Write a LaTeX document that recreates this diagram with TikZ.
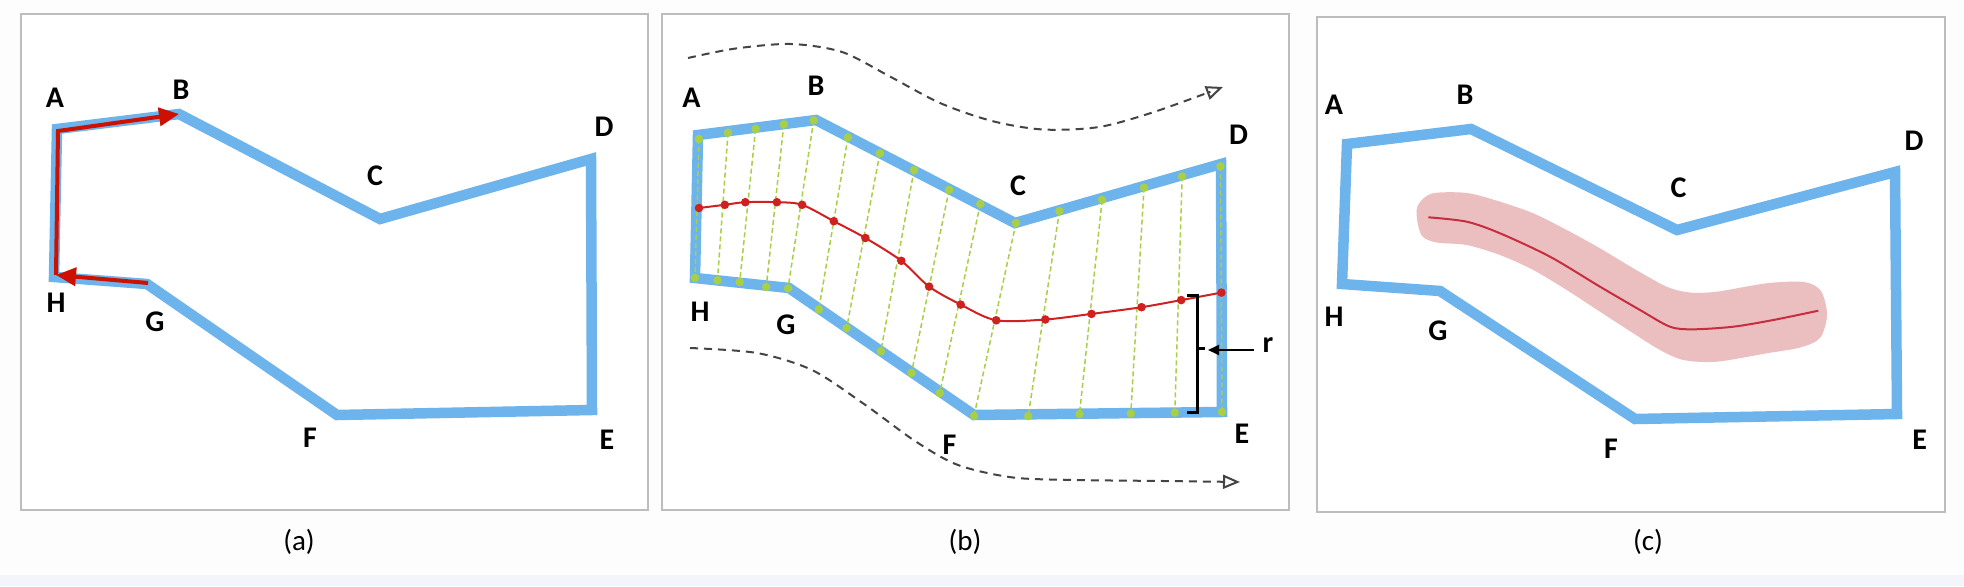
\documentclass[tikz,border=0pt]{standalone}
\usepackage{fontspec}
\setmainfont{Carlito}
\usetikzlibrary{arrows.meta}
\definecolor{polyblue}{HTML}{6DB3EC}
\definecolor{framegray}{HTML}{BDBDBD}
\definecolor{arrred}{HTML}{CC1100}
\definecolor{dotgreen}{HTML}{A8CF45}
\definecolor{midred}{HTML}{D02020}
\definecolor{bandpink}{HTML}{EBBFC0}
\definecolor{bandred}{HTML}{C62D3E}
\definecolor{flowgray}{HTML}{444444}
\definecolor{stripbg}{HTML}{F4F5FA}
\definecolor{pagebg}{HTML}{FDFDFD}
\begin{document}
\begin{tikzpicture}[x=1pt,y=-1pt,
  panelframe/.style={draw=framegray,line width=2pt,fill=white},
  poly/.style={draw=polyblue,line width=10.5pt,line join=miter},
  lbl/.style={font=\fontsize{30}{30}\selectfont\bfseries,inner sep=0pt},
  captxt/.style={font=\fontsize{29}{29}\selectfont,inner sep=0pt},
  redarrow/.style={draw=arrred,line width=4pt,line join=miter,-{Triangle[length=20pt,width=18pt]}},
  flow/.style={draw=flowgray,line width=2pt,dash pattern=on 8pt off 6pt,-{Triangle[open,length=17pt,width=14pt,line width=2pt]}},
  rib/.style={draw=dotgreen,line width=1.5pt,dash pattern=on 5pt off 3pt},
  gdot/.style={fill=dotgreen},
  rdot/.style={fill=midred},
  bracket/.style={draw=black,line width=3pt},
]
\useasboundingbox (0,0) rectangle (1964,586);
\fill[pagebg] (0,0) rectangle (1964,586);
\fill[stripbg] (0,575) rectangle (1964,586);

% ---------- panel frames ----------
\draw[panelframe] (21,14) rectangle (648,510);
\draw[panelframe] (662,14) rectangle (1289,510);
\draw[panelframe] (1317,17) rectangle (1945,512);

% ---------- panel (a) ----------
\coordinate (aA) at (57,129);
\coordinate (aB) at (179,114);
\coordinate (aC) at (380,219);
\coordinate (aD) at (591,159);
\coordinate (aE) at (592,410);
\coordinate (aF) at (337,415);
\coordinate (aG) at (147,284);
\coordinate (aH) at (54,277);
\draw[poly] (aA) -- (aB) -- (aC) -- (aD) -- (aE) -- (aF) -- (aG) -- (aH) -- cycle;
\coordinate (raG) at (148,283);
\coordinate (raH) at (56,275);
\coordinate (raA) at (58,131);
\coordinate (raB) at (179,114);
\draw[redarrow] (raG) -- (raH);
\draw[redarrow] (raH) -- (raA) -- (raB);
\node[lbl] (laA) at (55,98) {A};
\node[lbl] (laB) at (181,90) {B};
\node[lbl] (laC) at (375,176) {C};
\node[lbl] (laD) at (604,127) {D};
\node[lbl] (laE) at (607,440) {E};
\node[lbl] (laF) at (310,438) {F};
\node[lbl] (laG) at (155,322) {G};
\node[lbl] (laH) at (56,303) {H};
\node[captxt] (capa) at (299,542) {(a)};

% ---------- panel (b) ----------
\coordinate (bA) at (698,135);
\coordinate (bB) at (816,120);
\coordinate (bC) at (1015,223);
\coordinate (bD) at (1221,164);
\coordinate (bE) at (1222,412);
\coordinate (bF) at (974,415);
\coordinate (bG) at (789,288);
\coordinate (bH) at (695,278);
\draw[poly] (bA) -- (bB) -- (bC) -- (bD) -- (bE) -- (bF) -- (bG) -- (bH) -- cycle;

% flow lines
\coordinate (fa1) at (688,58);
\coordinate (fa2) at (735,48.6);
\coordinate (fa3) at (791,44);
\coordinate (fa4) at (842,52);
\coordinate (fa5) at (889,76);
\coordinate (fa6) at (940,103);
\coordinate (fa7) at (992,121);
\coordinate (fa8) at (1043,129.5);
\coordinate (fa9) at (1099,127);
\coordinate (fa10) at (1154,112);
\coordinate (fa11) at (1223,87);
\draw[flow] plot[smooth] coordinates {(fa1) (fa2) (fa3) (fa4) (fa5) (fa6) (fa7) (fa8) (fa9) (fa10) (fa11)};
\coordinate (fb1) at (690,348);
\coordinate (fb2) at (757,353);
\coordinate (fb3) at (812,370);
\coordinate (fb4) at (864,404);
\coordinate (fb5) at (915,441);
\coordinate (fb6) at (958,465);
\coordinate (fb7) at (1013,477.5);
\coordinate (fb8) at (1077,480);
\coordinate (fb9) at (1163,481);
\coordinate (fb10) at (1240,482);
\draw[flow] plot[smooth] coordinates {(fb1) (fb2) (fb3) (fb4) (fb5) (fb6) (fb7) (fb8) (fb9) (fb10)};

% ribs
\coordinate (t1) at (699,139);   \coordinate (b1) at (695,278);
\coordinate (t2) at (728,132.7); \coordinate (b2) at (717.5,280.3);
\coordinate (t3) at (755.6,128.9); \coordinate (b3) at (739.7,282.1);
\coordinate (t4) at (783.8,124.4); \coordinate (b4) at (766.2,287);
\coordinate (t5) at (813.7,120.3); \coordinate (b5) at (788,288.5);
\coordinate (t6) at (847.9,137.5); \coordinate (b6) at (818.8,309.4);
\coordinate (t7) at (879.9,153.2); \coordinate (b7) at (846.6,328.1);
\coordinate (t8) at (914.1,170);   \coordinate (b8) at (880.8,351.3);
\coordinate (t9) at (949.1,189.8); \coordinate (b9) at (911.5,372.9);
\coordinate (t10) at (980.3,204);  \coordinate (b10) at (939.7,393.1);
\coordinate (t11) at (1016,223);   \coordinate (b11) at (974,415.9);
\coordinate (t12) at (1059.4,211.1); \coordinate (b12) at (1028.2,416);
\coordinate (t13) at (1102.1,199.9); \coordinate (b13) at (1079.5,414);
\coordinate (t14) at (1144,187.6); \coordinate (b14) at (1130.8,413.5);
\coordinate (t15) at (1182.1,176.4); \coordinate (b15) at (1174.8,412.5);
\coordinate (t16) at (1220.5,166.3); \coordinate (b16) at (1222,412);
\foreach \i in {1,...,16} {
  \draw[rib] (t\i) -- (b\i);
  \fill[gdot] (t\i) circle[radius=4.3];
  \fill[gdot] (b\i) circle[radius=4.3];
}
% medial line
\coordinate (r1) at (699,208);
\coordinate (r2) at (724.8,204.8);
\coordinate (r3) at (745.3,202.2);
\coordinate (r4) at (776.9,202.2);
\coordinate (r5) at (802.1,204.8);
\coordinate (r6) at (833.8,221.2);
\coordinate (r7) at (865.4,238);
\coordinate (r8) at (901.3,260.8);
\coordinate (r9) at (929.1,286.6);
\coordinate (r10) at (960.7,304.6);
\coordinate (r11) at (996.2,320.3);
\coordinate (r12) at (1045.3,319.5);
\coordinate (r13) at (1091.5,313.9);
\coordinate (r14) at (1141.5,307.2);
\coordinate (r15) at (1181.2,300.1);
\coordinate (r16) at (1221.4,292.6);
\draw[midred,line width=2pt] plot[smooth] coordinates {(r1) (r2) (r3) (r4) (r5) (r6) (r7) (r8) (r9) (r10) (r11) (r12) (r13) (r14) (r15) (r16)};
\foreach \i in {1,...,16} { \fill[rdot] (r\i) circle[radius=4.3]; }

% radius bracket
\coordinate (brT) at (1187,295);
\coordinate (brTc) at (1197,295);
\coordinate (brBc) at (1197,412);
\coordinate (brB) at (1187,412);
\coordinate (brM) at (1197,348.5);
\coordinate (brMt) at (1205,348.5);
\draw[bracket] (brT) -- (brTc) -- (brBc) -- (brB);
\draw[bracket,line width=2.5pt] (brM) -- (brMt);
\node[lbl] (lr) at (1268,345) {r};
\coordinate (rarrS) at (1254,350);
\coordinate (rarrE) at (1208,350);
\draw[black,line width=2pt,-{Triangle[length=11pt,width=10pt]}] (rarrS) -- (rarrE);

\node[lbl] (lbA) at (691.5,98) {A};
\node[lbl] (lbB) at (816,86) {B};
\node[lbl] (lbC) at (1018,186) {C};
\node[lbl] (lbD) at (1238.5,135) {D};
\node[lbl] (lbE) at (1242,434) {E};
\node[lbl] (lbF) at (949.6,445) {F};
\node[lbl] (lbG) at (786,325) {G};
\node[lbl] (lbH) at (700,312) {H};
\node[captxt] (capb) at (965,542) {(b)};

% ---------- panel (c) ----------
\coordinate (cA) at (1347,144);
\coordinate (cB) at (1471,129);
\coordinate (cC) at (1677,230);
\coordinate (cD) at (1895,172);
\coordinate (cE) at (1897,414);
\coordinate (cF) at (1635,419);
\coordinate (cG) at (1440,291);
\coordinate (cH) at (1342,284);
\draw[poly] (cA) -- (cB) -- (cC) -- (cD) -- (cE) -- (cF) -- (cG) -- (cH) -- cycle;
% tube around the skeleton
\fill[bandpink] plot[smooth cycle] coordinates {
  (1418,205) (1432,193.5) (1466.7,193) (1500,201.7) (1533.3,213.3) (1566.7,230)
  (1600,248.3) (1633.3,268.3) (1666.7,286.7) (1690,292.5) (1716.7,291.7)
  (1766.7,283.3) (1804,282) (1821,291) (1827,315) (1820,338) (1800,347.5)
  (1766.7,353.3) (1716.7,361.7) (1683.3,360) (1660,350) (1633.3,333.3)
  (1600,311.7) (1566.7,290) (1533.3,270) (1500,255) (1466.7,245)
  (1436.7,242.5) (1422,236) (1417,219)};
\coordinate (s1) at (1428.3,217.3);
\coordinate (s2) at (1466.7,221.7);
\coordinate (s3) at (1500,233.3);
\coordinate (s4) at (1550,256.7);
\coordinate (s5) at (1600,286.7);
\coordinate (s6) at (1640,310);
\coordinate (s7) at (1670,326.7);
\coordinate (s8) at (1693.3,329.3);
\coordinate (s9) at (1733.3,326.7);
\coordinate (s10) at (1773.3,320);
\coordinate (s11) at (1818.3,310.7);
\draw[bandred,line width=2pt] plot[smooth] coordinates {(s1) (s2) (s3) (s4) (s5) (s6) (s7) (s8) (s9) (s10) (s11)};
\node[lbl] (lcA) at (1334,105) {A};
\node[lbl] (lcB) at (1465,95) {B};
\node[lbl] (lcC) at (1678.6,187.6) {C};
\node[lbl] (lcD) at (1914,141) {D};
\node[lbl] (lcE) at (1919.6,440) {E};
\node[lbl] (lcF) at (1611,449) {F};
\node[lbl] (lcG) at (1438,331) {G};
\node[lbl] (lcH) at (1334,317) {H};
\node[captxt] (capc) at (1648,542) {(c)};
\end{tikzpicture}
\end{document}
